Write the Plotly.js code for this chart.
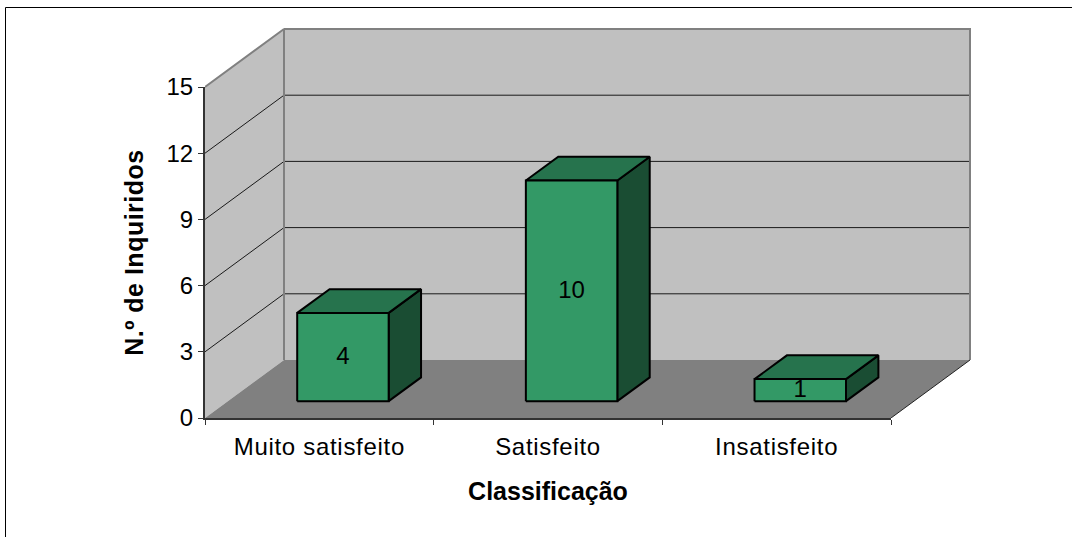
<!DOCTYPE html>
<html>
<head>
<meta charset="utf-8">
<script src="https://cdn.plot.ly/plotly-3.0.1.min.js"></script>
<style>
html,body{margin:0;padding:0;background:#fff;overflow:hidden}
#chart{width:1072px;height:537px}
.x2tick text{letter-spacing:0.7px}
.ytitle,.y2title{letter-spacing:0.5px}
</style>
</head>
<body>
<div id="chart"></div>
<script>
const categories = ["Muito satisfeito", "Satisfeito", "Insatisfeito"];
const respondents = [4, 10, 1];
const valueTicks = [0, 3, 6, 9, 12, 15];
const xTitle = "Classificação";
const yTitle = "N.º de Inquiridos";

const W = 1072, H = 537, L = 205, R = 891, T = 87, B = 418;
const depthPxX = 79, depthPxY = 58, pad = 4;
const n = categories.length;
const yMax = valueTicks[valueTicks.length - 1];
const pxX = (R - L) / n, pxY = (B - T) / yMax;
// oblique projection of the 3-D box: full depth expressed in axis units
const depthX = depthPxX / pxX, depthY = depthPxY / pxY;
const barFrom = 0.29, barTo = 0.7;   // bar span inside the depth
const barLeft = 0.303, barRight = 0.703; // bar span inside a category

const P = (c, v, d) => [c + d * depthX, v + d * depthY];
function poly(pts, fill, line, width, closed = true) {
  const p = pts.map(a => P(a[0], a[1], a[2]));
  if (closed) p.push(p[0]);
  return {
    type: 'scatter', mode: 'lines', x: p.map(a => a[0]), y: p.map(a => a[1]),
    xaxis: 'x', yaxis: 'y',
    fill: fill ? 'toself' : 'none', fillcolor: fill || undefined,
    line: { color: line || 'rgba(0,0,0,0)', width: width || 0 },
    hoverinfo: 'skip', showlegend: false
  };
}

const traces = [];
// walls and floor
traces.push(poly([[0, 0, 0], [0, 0, 1], [0, yMax, 1], [0, yMax, 0]], '#c0c0c0'));
traces.push(poly([[0, 0, 1], [n, 0, 1], [n, yMax, 1], [0, yMax, 1]], '#c0c0c0'));
traces.push(poly([[0, 0, 0], [n, 0, 0], [n, 0, 1], [0, 0, 1]], '#808080'));
// gridlines
valueTicks.filter(v => v > 0 && v < yMax).forEach(v => {
  traces.push(poly([[0, v, 0], [0, v, 1], [n, v, 1]], null, '#1a1a1a', 1, false));
});
// wall edges
traces.push(poly([[0, 0, 1], [0, yMax, 1], [0, yMax, 0]], null, '#808080', 2, false));
traces.push(poly([[0, yMax, 1], [n, yMax, 1], [n, 0, 1]], null, '#808080', 2, false));
traces.push(poly([[n, 0, 0], [n, 0, 1]], null, '#222222', 1, false));
// bars
respondents.forEach((v, i) => {
  const a = i + barLeft, b = i + barRight;
  traces.push(poly([[b, 0, barFrom], [b, 0, barTo], [b, v, barTo], [b, v, barFrom]], '#1a4d33', '#000', 2));
  traces.push(poly([[a, v, barFrom], [b, v, barFrom], [b, v, barTo], [a, v, barTo]], '#26734d', '#000', 2));
  traces.push(poly([[a, 0, barFrom], [b, 0, barFrom], [b, v, barFrom], [a, v, barFrom]], '#339966', '#000', 2));
});
// data labels live on the visible front-plane axes, above the box
traces.push({
  type: 'scatter', mode: 'text', xaxis: 'x2', yaxis: 'y2',
  x: respondents.map((v, i) => P(i + 0.503, v / 2, barFrom)[0]),
  y: respondents.map((v, i) => P(i + 0.503, v / 2, barFrom)[1] - 0.05),
  text: respondents.map(String), textposition: 'middle center',
  textfont: { family: 'Liberation Sans, Arial, sans-serif', size: 24, color: '#000' },
  cliponaxis: false, hoverinfo: 'skip', showlegend: false
});

const fullR = R + depthPxX + pad, fullT = T - depthPxY - pad;
const layout = {
  width: W, height: H, showlegend: false,
  paper_bgcolor: '#fff', plot_bgcolor: 'rgba(0,0,0,0)',
  margin: { l: L, r: W - fullR, t: fullT, b: H - B, pad: 0 },
  font: { family: 'Liberation Sans, Arial, sans-serif', size: 24, color: '#000' },
  // hidden axes spanning the whole box, sharing the front plane's scale
  xaxis: { visible: false, fixedrange: true, domain: [0, 1], range: [0, (fullR - L) / pxX] },
  yaxis: { visible: false, fixedrange: true, domain: [0, 1], range: [0, (B - fullT) / pxY] },
  // visible axes on the front plane
  xaxis2: {
    anchor: 'y2', domain: [0, (R - L) / (fullR - L)],
    range: [0, n], fixedrange: true, zeroline: false, showgrid: false,
    showline: true, linecolor: '#333', linewidth: 2,
    tickmode: 'array', tickvals: categories.map((c, i) => i + 0.5), ticktext: categories,
    ticks: 'outside', ticklen: 0, tickcolor: 'rgba(0,0,0,0)', ticklabelstandoff: 6,
    minor: { tickmode: 'array', tickvals: Array.from({ length: n + 1 }, (_, i) => i), ticks: 'outside', ticklen: 5, tickwidth: 1, tickcolor: '#333', showgrid: false },
    title: { text: '<b>' + xTitle + '</b>', standoff: 24, font: { size: 25 } }
  },
  yaxis2: {
    anchor: 'x2', domain: [0, (B - T) / (B - fullT)],
    range: [0, yMax], fixedrange: true, zeroline: false, showgrid: false,
    showline: true, linecolor: '#333', linewidth: 2,
    tickmode: 'array', tickvals: valueTicks,
    ticks: 'outside', ticklen: 5, tickwidth: 1, tickcolor: '#333',
    title: { text: '<b>' + yTitle + '</b>', standoff: 16, font: { size: 25 } }
  },
  shapes: [
    { type: 'line', xref: 'paper', yref: 'paper', x0: (5.5 - L) / (fullR - L), x1: 1.3, y0: (B - 7.5) / (B - fullT), y1: (B - 7.5) / (B - fullT), line: { color: '#000', width: 1 } },
    { type: 'line', xref: 'paper', yref: 'paper', x0: (5.5 - L) / (fullR - L), x1: (5.5 - L) / (fullR - L), y0: (B - 7.5) / (B - fullT), y1: -0.4, line: { color: '#000', width: 1 } }
  ]
};
Plotly.newPlot('chart', traces, layout, { staticPlot: true, displayModeBar: false });
</script>
</body>
</html>
